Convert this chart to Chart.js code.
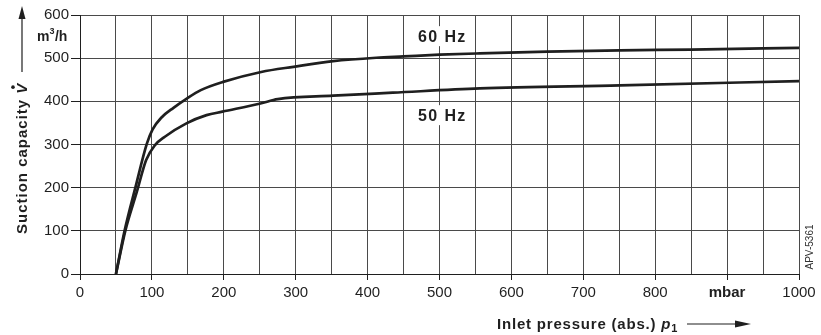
<!DOCTYPE html>
<html>
<head>
<meta charset="utf-8">
<script src="https://cdn.jsdelivr.net/npm/chart.js@4"></script>
<style>
  body { margin: 0; background: #fff; }
  canvas { display: block; }
</style>
</head>
<body>
<canvas id="grafico" width="821" height="335"></canvas>
<script>
// inlet pressure (mbar) vs suction capacity (m3/h)
const pressure60 = [50, 62, 77, 93, 101, 113, 130, 149, 168, 199, 252, 297, 352, 412, 450, 500, 556, 650, 751, 850, 1000];
const flow60     = [0, 100, 200, 302, 335, 362, 385, 407, 426, 445, 468, 480, 493, 501, 504, 508, 511, 515, 518, 520, 524];

const pressure50 = [50, 63, 79, 92, 104, 118, 148, 176, 198, 251, 275, 352, 435, 556, 751, 1000];
const flow50     = [0, 100, 190, 264, 298, 318, 349, 368, 376, 395, 405, 413, 420, 430, 437, 447];

const xTicks = [0, 100, 200, 300, 400, 500, 600, 700, 800, 900, 1000];
const xTickLabels = ["0", "100", "200", "300", "400", "500", "600", "700", "800", "mbar", "1000"];
const yTicks = [0, 100, 200, 300, 400, 500, 600];

const curveLabels = [
    { text: "60 Hz", x: 503, y: 551 },
    { text: "50 Hz", x: 503, y: 368 },
];

const FONT = "Liberation Sans, Arial, sans-serif";
const INK = "#1f1f1f";

function puntos(xs, ys) {
    return xs.map((x, i) => ({ x: x, y: ys[i] }));
}

// extra text: titles, arrows, units and curve names
const anotaciones = {
    id: "anotaciones",
    afterDraw(chart) {
        const ctx = chart.ctx;
        const sx = chart.scales.x;
        const sy = chart.scales.y;
        ctx.save();
        ctx.fillStyle = INK;
        ctx.strokeStyle = INK;

        // curve names on white boxes
        ctx.font = "bold 16px " + FONT;
        ctx.letterSpacing = "1.4px";
        ctx.textAlign = "left";
        ctx.textBaseline = "middle";
        curveLabels.forEach(l => {
            const px = sx.getPixelForValue(l.x);
            const py = sy.getPixelForValue(l.y);
            const w = ctx.measureText(l.text).width - 1.4;
            ctx.fillStyle = "#fff";
            ctx.fillRect(px - w / 2 - 4, py - 10, w + 8, 20);
            ctx.fillStyle = INK;
            ctx.fillText(l.text, px - w / 2, py + 1);
        });
        ctx.letterSpacing = "0px";

        // unit under the 600 tick
        ctx.textBaseline = "alphabetic";
        ctx.font = "bold 14px " + FONT;
        let ux = 37;
        ctx.fillText("m", ux, 41);
        ux += ctx.measureText("m").width;
        ctx.font = "bold 9px " + FONT;
        ctx.fillText("3", ux, 34);
        ux += ctx.measureText("3").width;
        ctx.font = "bold 14px " + FONT;
        ctx.fillText("/h", ux + 0.5, 41);

        // y title, rotated
        ctx.save();
        ctx.translate(27, 234);
        ctx.rotate(-Math.PI / 2);
        ctx.letterSpacing = "1px";
        ctx.font = "bold 15px " + FONT;
        const t1 = "Suction capacity ";
        ctx.fillText(t1, 0, 0);
        let vx = ctx.measureText(t1).width;
        ctx.font = "italic bold 15px " + FONT;
        ctx.fillText("V", vx, 0);
        const vw = ctx.measureText("V").width;
        ctx.beginPath();
        ctx.arc(vx + vw / 2 + 1, -14, 1.8, 0, Math.PI * 2);
        ctx.fill();
        ctx.restore();

        // y arrow
        ctx.lineWidth = 1.2;
        ctx.beginPath();
        ctx.moveTo(22, 72);
        ctx.lineTo(22, 16);
        ctx.stroke();
        ctx.beginPath();
        ctx.moveTo(22, 6);
        ctx.lineTo(18.5, 19);
        ctx.lineTo(25.5, 19);
        ctx.closePath();
        ctx.fill();

        // x title
        ctx.letterSpacing = "0.8px";
        ctx.font = "bold 15px " + FONT;
        let tx = 497;
        const t2 = "Inlet pressure (abs.) ";
        ctx.fillText(t2, tx, 329);
        tx += ctx.measureText(t2).width;
        ctx.font = "italic bold 15px " + FONT;
        ctx.fillText("p", tx, 329);
        tx += ctx.measureText("p").width;
        ctx.font = "bold 11px " + FONT;
        ctx.fillText("1", tx, 332);
        ctx.letterSpacing = "0px";

        // x arrow
        ctx.beginPath();
        ctx.moveTo(687, 324);
        ctx.lineTo(738, 324);
        ctx.stroke();
        ctx.beginPath();
        ctx.moveTo(751, 324);
        ctx.lineTo(735, 320.5);
        ctx.lineTo(735, 327.5);
        ctx.closePath();
        ctx.fill();

        // drawing number
        ctx.save();
        ctx.translate(810, 247);
        ctx.rotate(-Math.PI / 2);
        ctx.textAlign = "center";
        ctx.textBaseline = "middle";
        ctx.font = "10px " + FONT;
        ctx.fillStyle = "#333";
        ctx.fillText("APV-5361", 0, 0);
        ctx.restore();

        ctx.restore();
    }
};

const lineaBase = {
    borderColor: INK,
    borderWidth: 2.7,
    pointRadius: 0,
    fill: false,
    cubicInterpolationMode: "monotone",
};

new Chart(document.getElementById("grafico"), {
    type: "line",
    data: {
        datasets: [
            Object.assign({ label: "60 Hz", data: puntos(pressure60, flow60) }, lineaBase),
            Object.assign({ label: "50 Hz", data: puntos(pressure50, flow50) }, lineaBase),
        ]
    },
    options: {
        responsive: false,
        animation: false,
        layout: { padding: { left: 0, top: 15, right: 22, bottom: 0 } },
        plugins: {
            legend: { display: false },
            tooltip: { enabled: false },
        },
        scales: {
            x: {
                type: "linear",
                min: 0,
                max: 1000,
                afterFit: s => { s.height = 61; },
                grid: {
                    color: "#4a4a4a",
                    lineWidth: 1,
                    tickLength: 6,
                    tickColor: c => (c.tick && c.tick.value % 100 === 0) ? INK : "rgba(0,0,0,0)",
                },
                border: { color: INK, width: 1 },
                ticks: {
                    stepSize: 50,
                    autoSkip: false,
                    maxRotation: 0,
                    padding: 4,
                    color: INK,
                    font: c => ({
                        family: FONT,
                        size: 15,
                        weight: (c.tick && c.tick.value === 900) ? "bold" : "normal",
                    }),
                    callback: v => {
                        const i = xTicks.indexOf(v);
                        return i >= 0 ? xTickLabels[i] : "";
                    },
                },
            },
            y: {
                min: 0,
                max: 600,
                afterFit: s => { s.width = 80; },
                grid: {
                    color: "#4a4a4a",
                    lineWidth: 1,
                    tickLength: 9,
                    tickColor: INK,
                },
                border: { color: INK, width: 1 },
                ticks: {
                    stepSize: 100,
                    padding: 2,
                    color: INK,
                    font: { family: FONT, size: 15 },
                    callback: v => yTicks.includes(v) ? String(v) : "",
                },
            },
        },
    },
    plugins: [anotaciones],
});
</script>
</body>
</html>
